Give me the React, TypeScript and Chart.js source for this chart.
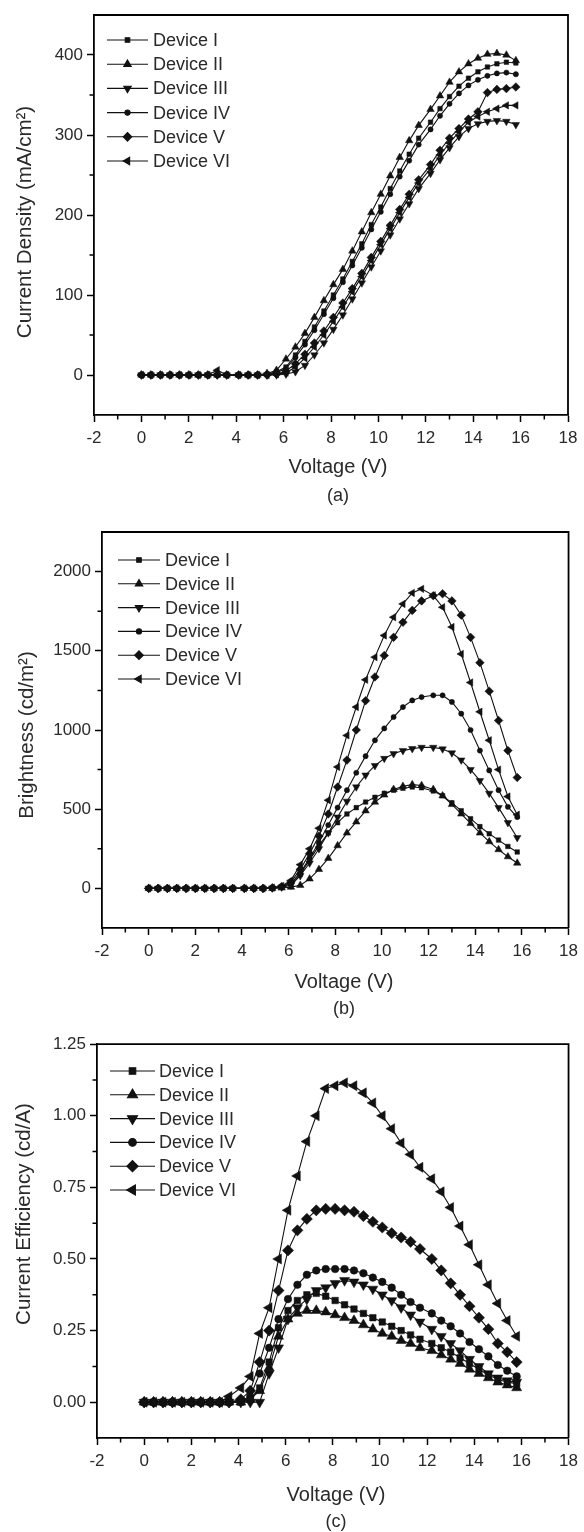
import React, { useEffect, useRef } from "react";
import { Chart, registerables } from "chart.js";
import { drawPoint } from "chart.js/helpers";

Chart.register(...registerables);

// ---------------- data ----------------
const VOLTAGE = [0, 0.4, 0.8, 1.2, 1.6, 2.0, 2.4, 2.8, 3.2, 3.6, 4.1, 4.5, 4.9, 5.3, 5.7, 6.1, 6.5, 6.9, 7.3, 7.7, 8.1, 8.5, 8.9, 9.3, 9.7, 10.1, 10.5, 10.9, 11.3, 11.7, 12.2, 12.6, 13.0, 13.4, 13.8, 14.2, 14.6, 15.0, 15.4, 15.8];

const DEVICES = ["Device I", "Device II", "Device III", "Device IV", "Device V", "Device VI"];

const X_MAJOR = [-2, 0, 2, 4, 6, 8, 10, 12, 14, 16, 18];
const X_MINOR = [-1, 1, 3, 5, 7, 9, 11, 13, 15, 17];

// (a) current density, mA/cm2
const J_I = [0, 0, 0, 0, 0, 0, 0, 0, 0, 0, 0, 0, 0, 1, 4, 10, 25, 42, 60, 80, 100, 120, 142, 164, 188, 210, 233, 255, 276, 296, 316, 333, 348, 361, 371, 379, 385, 389, 391, 390];
const J_II = [0, 0, 0, 0, 0, 0, 0, 0, 0, 0, 0, 0, 0, 2, 6, 20, 35, 52, 72, 93, 113, 132, 155, 179, 203, 226, 249, 272, 293, 312, 332, 349, 366, 379, 389, 396, 401, 402, 400, 393];
const J_III = [0, 0, 0, 0, 0, 0, 0, 0, 0, 0, 0, 0, 0, 0, 0, 1, 4, 12, 25, 40, 57, 75, 95, 115, 135, 155, 175, 195, 214, 233, 252, 269, 284, 298, 308, 314, 317, 318, 317, 313];
const J_IV = [0, 0, 0, 0, 0, 0, 0, 0, 0, 0, 0, 0, 0, 1, 3, 8, 22, 38, 56, 76, 96, 116, 137, 159, 182, 204, 226, 248, 268, 288, 307, 324, 339, 352, 362, 369, 374, 377, 378, 376];
const J_V = [0, 0, 0, 0, 0, 0, 0, 0, 0, 0, 0, 0, 0, 0, 1, 5, 14, 26, 40, 55, 72, 90, 108, 127, 147, 167, 187, 207, 226, 244, 263, 281, 296, 308, 320, 329, 353, 357, 358, 360];
const J_VI = [0, 0, 0, 0, 0, 0, 0, 0, 6, 0, 0, 0, 0, 0, 1, 3, 10, 21, 35, 50, 67, 85, 104, 123, 143, 163, 183, 203, 222, 240, 258, 275, 290, 304, 316, 323, 329, 333, 337, 337];

// (b) brightness, cd/m2
const B_I = [0, 0, 0, 0, 0, 0, 0, 0, 0, 0, 0, 0, 0, 3, 10, 30, 90, 180, 270, 350, 415, 470, 510, 545, 575, 600, 620, 632, 640, 635, 615, 585, 540, 490, 440, 390, 345, 305, 265, 230];
const B_II = [0, 0, 0, 0, 0, 0, 0, 0, 0, 0, 0, 0, 0, 0, 3, 8, 20, 60, 120, 190, 270, 350, 420, 490, 545, 590, 625, 645, 655, 650, 625, 585, 530, 470, 410, 350, 295, 245, 200, 160];
const B_III = [0, 0, 0, 0, 0, 0, 0, 0, 0, 0, 0, 0, 0, 2, 8, 20, 80, 160, 250, 350, 450, 550, 640, 715, 775, 820, 850, 870, 882, 890, 890, 880, 855, 810, 750, 680, 600, 510, 415, 320];
const B_IV = [0, 0, 0, 0, 0, 0, 0, 0, 0, 0, 0, 0, 0, 3, 10, 30, 100, 190, 290, 400, 510, 620, 730, 835, 935, 1010, 1082, 1145, 1187, 1208, 1219, 1219, 1177, 1103, 1000, 870, 745, 620, 515, 450];
const B_V = [0, 0, 0, 0, 0, 0, 0, 0, 0, 0, 0, 0, 0, 4, 12, 40, 120, 220, 330, 470, 640, 810, 1000, 1185, 1335, 1470, 1585, 1680, 1755, 1815, 1848, 1860, 1815, 1725, 1585, 1425, 1245, 1060, 870, 700];
const B_VI = [0, 0, 0, 0, 0, 0, 0, 0, 0, 0, 0, 0, 0, 5, 15, 50, 150, 250, 380, 557, 767, 966, 1145, 1317, 1460, 1597, 1712, 1796, 1865, 1891, 1850, 1775, 1650, 1480, 1300, 1115, 935, 750, 580, 465];

// (c) current efficiency, cd/A
const E_I = [0, 0, 0, 0, 0, 0, 0, 0, 0, 0, 0, 0.01, 0.05, 0.14, 0.26, 0.32, 0.355, 0.375, 0.38, 0.37, 0.355, 0.34, 0.325, 0.31, 0.295, 0.28, 0.265, 0.25, 0.235, 0.22, 0.205, 0.19, 0.175, 0.155, 0.135, 0.115, 0.095, 0.08, 0.07, 0.065];
const E_II = [0, 0, 0, 0, 0, 0, 0, 0, 0, 0, 0, 0.01, 0.04, 0.12, 0.23, 0.29, 0.31, 0.32, 0.32, 0.315, 0.305, 0.295, 0.285, 0.27, 0.255, 0.24, 0.23, 0.215, 0.205, 0.19, 0.18, 0.165, 0.15, 0.135, 0.115, 0.1, 0.085, 0.07, 0.06, 0.05];
const E_III = [0, 0, 0, 0, 0, 0, 0, 0, 0, 0, 0, 0, 0, 0.1, 0.19, 0.29, 0.33, 0.36, 0.39, 0.4, 0.415, 0.425, 0.42, 0.41, 0.395, 0.375, 0.355, 0.33, 0.305, 0.28, 0.255, 0.23, 0.205, 0.18, 0.15, 0.125, 0.1, 0.085, 0.075, 0.07];
const E_IV = [0, 0, 0, 0, 0, 0, 0, 0, 0, 0, 0.005, 0.02, 0.1, 0.19, 0.29, 0.36, 0.41, 0.445, 0.46, 0.465, 0.465, 0.465, 0.46, 0.45, 0.435, 0.42, 0.4, 0.375, 0.35, 0.33, 0.31, 0.285, 0.265, 0.24, 0.21, 0.185, 0.16, 0.13, 0.11, 0.09];
const E_V = [0, 0, 0, 0, 0, 0, 0, 0, 0, 0, 0.01, 0.04, 0.14, 0.25, 0.39, 0.53, 0.6, 0.64, 0.67, 0.675, 0.675, 0.67, 0.665, 0.65, 0.63, 0.61, 0.59, 0.575, 0.56, 0.535, 0.5, 0.46, 0.415, 0.375, 0.335, 0.295, 0.255, 0.205, 0.175, 0.14];
const E_VI = [0, 0, 0, 0, 0, 0, 0, 0, 0, 0.02, 0.05, 0.09, 0.24, 0.33, 0.5, 0.67, 0.79, 0.91, 1.0, 1.095, 1.105, 1.115, 1.105, 1.08, 1.045, 1.0, 0.955, 0.905, 0.865, 0.82, 0.78, 0.735, 0.68, 0.615, 0.55, 0.48, 0.41, 0.345, 0.285, 0.23];

const Y_MAJOR_A = [0, 100, 200, 300, 400];
const Y_MINOR_A = [50, 150, 250, 350];
const Y_MAJOR_B = [0, 500, 1000, 1500, 2000];
const Y_MINOR_B = [250, 750, 1250, 1750];
const Y_MAJOR_C = [0, 0.25, 0.5, 0.75, 1.0, 1.25];
const Y_MINOR_C = [0.125, 0.375, 0.625, 0.875, 1.125];

// ---------------- styling / layout ----------------
const FONT = '"Liberation Sans", Arial, Helvetica, sans-serif';
const W = 584;
const TEXT = "#2a2a2a";

const MARKERS = [
  { style: "rect", rotation: 0 },
  { style: "triangle", rotation: 0 },
  { style: "triangle", rotation: 180 },
  { style: "circle", rotation: 0 },
  { style: "rectRot", rotation: 0 },
  { style: "triangle", rotation: -90 },
];

type Panel = {
  top: number;
  height: number;
  area: { l: number; t: number; r: number; b: number };
  yMin: number;
  yMax: number;
  yMajor: number[];
  yMinor: number[];
  yFmt: (v: number) => string;
  yTitle: string;
  yTitleX: number;
  yTitleY: number;
  xTitleX: number;
  xTitleY: number;
  caption: string;
  capY: number;
  legend: { x0: number; x1: number; tx: number; y0: number; dy: number };
  series: number[][];
  radii: number[];
};

const PANELS: Panel[] = [
  {
    top: 0,
    height: 515,
    area: { l: 94, t: 15, r: 568, b: 415 },
    yMin: -50,
    yMax: 450,
    yMajor: Y_MAJOR_A,
    yMinor: Y_MINOR_A,
    yFmt: (v) => String(v),
    yTitle: "Current Density (mA/cm²)",
    yTitleX: 25,
    yTitleY: 222,
    xTitleX: 338,
    xTitleY: 467,
    caption: "(a)",
    capY: 496,
    legend: { x0: 107, x1: 148, tx: 153, y0: 40, dy: 24.2 },
    series: [J_I, J_II, J_III, J_IV, J_V, J_VI],
    radii: [3.2, 4.3, 4.3, 2.6, 4.3, 4.3],
  },
  {
    top: 515,
    height: 515,
    area: { l: 102, t: 17, r: 573, b: 413 },
    yMin: -250,
    yMax: 2250,
    yMajor: Y_MAJOR_B,
    yMinor: Y_MINOR_B,
    yFmt: (v) => String(v),
    yTitle: "Brightness (cd/m²)",
    yTitleX: 27,
    yTitleY: 220,
    xTitleX: 344,
    xTitleY: 467,
    caption: "(b)",
    capY: 494,
    legend: { x0: 118, x1: 160, tx: 165, y0: 45, dy: 23.8 },
    series: [B_I, B_II, B_III, B_IV, B_V, B_VI],
    radii: [3.2, 4.3, 4.3, 2.6, 4.3, 4.3],
  },
  {
    top: 1030,
    height: 502,
    area: { l: 97, t: 14, r: 573, b: 408 },
    yMin: -0.125,
    yMax: 1.25,
    yMajor: Y_MAJOR_C,
    yMinor: Y_MINOR_C,
    yFmt: (v) => v.toFixed(2),
    yTitle: "Current Efficiency (cd/A)",
    yTitleX: 24,
    yTitleY: 184,
    xTitleX: 336,
    xTitleY: 465,
    caption: "(c)",
    capY: 492,
    legend: { x0: 110, x1: 155, tx: 159, y0: 41, dy: 23.8 },
    series: [E_I, E_II, E_III, E_IV, E_V, E_VI],
    radii: [4.6, 5.8, 5.8, 3.8, 5.6, 5.8],
  },
];

function makeDecorPlugin(p: Panel) {
  return {
    id: "decor",
    afterDraw(chart: any) {
      const ctx = chart.ctx as CanvasRenderingContext2D;
      const { left, right, top, bottom } = chart.chartArea;
      const xs = chart.scales.x;
      const ys = chart.scales.y;
      ctx.save();
      ctx.strokeStyle = "#000";
      ctx.lineWidth = 1.8;
      ctx.beginPath();
      ctx.moveTo(left - 1, top);
      ctx.lineTo(right, top);
      ctx.lineTo(right, bottom);
      ctx.stroke();

      // minor ticks
      ctx.lineWidth = 1.5;
      ctx.beginPath();
      X_MINOR.forEach((v) => {
        const px = xs.getPixelForValue(v);
        ctx.moveTo(px, bottom);
        ctx.lineTo(px, bottom + 4.5);
      });
      p.yMinor.forEach((v) => {
        const py = ys.getPixelForValue(v);
        ctx.moveTo(left, py);
        ctx.lineTo(left - 4.5, py);
      });
      ctx.stroke();

      // legend
      const lg = p.legend;
      ctx.font = "18px " + FONT;
      ctx.textAlign = "left";
      ctx.textBaseline = "middle";
      DEVICES.forEach((name, i) => {
        const y = lg.y0 + i * lg.dy;
        ctx.strokeStyle = "#111";
        ctx.lineWidth = 1.1;
        ctx.beginPath();
        ctx.moveTo(lg.x0, y);
        ctx.lineTo(lg.x1, y);
        ctx.stroke();
        ctx.fillStyle = "#111";
        ctx.strokeStyle = "#111";
        drawPoint(
          ctx,
          {
            pointStyle: MARKERS[i].style as any,
            rotation: MARKERS[i].rotation,
            radius: p.radii[i],
            borderWidth: 0.5,
          } as any,
          (lg.x0 + lg.x1) / 2,
          y
        );
        ctx.fillStyle = TEXT;
        ctx.fillText(name, lg.tx, y + 1);
      });

      // axis titles + caption
      ctx.fillStyle = TEXT;
      ctx.textAlign = "center";
      ctx.textBaseline = "middle";
      ctx.font = "20px " + FONT;
      ctx.fillText("Voltage (V)", p.xTitleX, p.xTitleY);
      ctx.font = "18px " + FONT;
      ctx.fillText(p.caption, p.xTitleX, p.capY);
      ctx.font = "20.5px " + FONT;
      ctx.translate(p.yTitleX, p.yTitleY);
      ctx.rotate(-Math.PI / 2);
      ctx.fillText(p.yTitle, 0, 0);
      ctx.restore();
    },
  };
}

function PanelChart({ p }: { p: Panel }) {
  const ref = useRef<HTMLCanvasElement | null>(null);
  useEffect(() => {
    if (!ref.current) return;
    const datasets = p.series.map((s, i) => ({
      label: DEVICES[i],
      data: VOLTAGE.map((v, k) => ({ x: v, y: s[k] })),
      showLine: true,
      borderColor: "#111",
      backgroundColor: "#111",
      borderWidth: 1.1,
      pointStyle: MARKERS[i].style,
      rotation: MARKERS[i].rotation,
      pointRadius: p.radii[i],
      pointBorderWidth: 0.5,
      pointBorderColor: "#111",
      pointBackgroundColor: "#111",
      tension: 0,
    }));
    const tickFont = { family: FONT, size: 17 };
    const chart = new Chart(ref.current, {
      type: "scatter",
      data: { datasets } as any,
      options: {
        animation: false,
        responsive: false,
        devicePixelRatio: 1,
        events: [],
        layout: { padding: { left: 0, top: p.area.t, right: W - p.area.r, bottom: 0 } },
        plugins: { legend: { display: false }, tooltip: { enabled: false }, title: { display: false } },
        scales: {
          x: {
            type: "linear",
            min: -2,
            max: 18,
            afterBuildTicks: (s: any) => {
              s.ticks = X_MAJOR.map((v) => ({ value: v }));
            },
            afterFit: (s: any) => {
              s.height = p.height - p.area.b;
            },
            grid: { drawOnChartArea: false, drawTicks: true, tickLength: 7, tickColor: "#000", tickWidth: 1.5 },
            border: { display: true, color: "#000", width: 1.8 },
            ticks: {
              autoSkip: false,
              maxRotation: 0,
              padding: 6,
              color: TEXT,
              font: tickFont,
              callback: (v: any) => String(v),
            },
          },
          y: {
            type: "linear",
            min: p.yMin,
            max: p.yMax,
            afterBuildTicks: (s: any) => {
              s.ticks = p.yMajor.map((v) => ({ value: v }));
            },
            afterFit: (s: any) => {
              s.width = p.area.l;
            },
            grid: { drawOnChartArea: false, drawTicks: true, tickLength: 7, tickColor: "#000", tickWidth: 1.5 },
            border: { display: true, color: "#000", width: 1.8 },
            ticks: {
              autoSkip: false,
              padding: 4,
              color: TEXT,
              font: tickFont,
              callback: (v: any) => p.yFmt(Number(v)),
            },
          },
        },
      } as any,
      plugins: [makeDecorPlugin(p)],
    });
    return () => chart.destroy();
  }, [p]);
  return (
    <canvas
      ref={ref}
      width={W}
      height={p.height}
      style={{ position: "absolute", left: 0, top: p.top, width: W, height: p.height, display: "block" }}
    />
  );
}

export default function App() {
  return (
    <div style={{ position: "absolute", left: 0, top: 0, width: W, height: 1532, background: "#fff", overflow: "hidden" }}>
      {PANELS.map((p, i) => (
        <PanelChart key={i} p={p} />
      ))}
    </div>
  );
}
